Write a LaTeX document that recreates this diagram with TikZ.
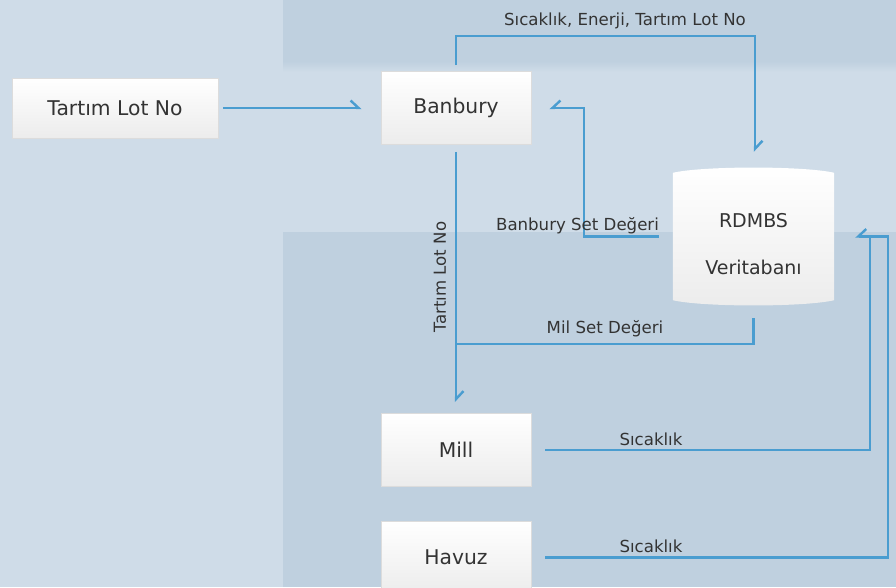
\documentclass[tikz,border=0pt]{standalone}
\usepackage{fontspec}
\setmainfont{DejaVu Sans}
\usetikzlibrary{arrows.meta,calc}
\definecolor{bgL}{HTML}{CFDCE8}
\definecolor{bgD}{HTML}{BFD0DF}
\definecolor{conn}{HTML}{4A9DD0}
\definecolor{txt}{HTML}{333333}
\definecolor{boxbot}{HTML}{ECECEC}
\definecolor{boxline}{HTML}{DCDCDC}
\tikzset{
  box/.style={rectangle, draw=boxline, line width=0.8pt, top color=white, bottom color=boxbot,
    text=txt, font=\fontsize{20.3}{24}\selectfont, inner sep=0pt},
  lbl/.style={text=txt, font=\fontsize{16.6}{20}\selectfont, inner sep=0pt},
  conline/.style={draw=conn, line width=2.4pt},
  harpL/.style={-{Straight Barb[harpoon, length=8pt, width=15pt, line width=2.4pt]}},
  harpR/.style={-{Straight Barb[harpoon, swap, length=8pt, width=15pt, line width=2.4pt]}},
}
\begin{document}
\begin{tikzpicture}[x=1pt,y=-1pt]
\useasboundingbox (0,0) rectangle (896,587);
\clip (0,0) rectangle (896,587);
% background
\fill[bgL] (0,0) rectangle (896,587);
\fill[bgD] (283,0) rectangle (896,62);
\shade[top color=bgD, bottom color=bgL] (283,61) rectangle (896,72);
\fill[bgD] (283,232) rectangle (896,587);

% nodes
\node[box, minimum width=206pt, minimum height=60pt] (tart) at (115,108) {Tartım Lot No};
\node[box, minimum width=150pt, minimum height=73pt] (banb) at (456,108) {Banbury};
\node[box, minimum width=150pt, minimum height=73pt] (mill) at (456,450) {Mill};
\node[box, minimum width=150pt, minimum height=73pt] (havuz) at (456,557.5) {Havuz};

% database cylinder
\node[minimum width=161pt, minimum height=137pt, inner sep=0pt] (db) at (753.5,236.5) {};
\path[top color=white, bottom color=boxbot]
  ($(db.north west)+(0,5)$) .. controls ($(db.north west)+(30,-2)$) and ($(db.north east)+(-30,-2)$) .. ($(db.north east)+(0,5)$)
  -- ($(db.south east)+(0,-5)$) .. controls ($(db.south east)+(-30,2)$) and ($(db.south west)+(30,2)$) .. ($(db.south west)+(0,-5)$)
  -- cycle;
\node[text=txt, font=\fontsize{19}{22}\selectfont, inner sep=0pt] (dbt1) at (753.5,221) {RDMBS};
\node[text=txt, font=\fontsize{19}{22}\selectfont, inner sep=0pt] (dbt2) at (753.5,267) {Veritabanı};

% bend coordinates
\coordinate (topy) at (0,36);
\coordinate (bsx) at (584,0);
\coordinate (mily) at (0,344);
\coordinate (millx) at (870,0);
\coordinate (havx) at (888,0);

% Tartim -> Banbury
\draw[conline, harpL, shorten <=5pt, shorten >=19pt] (tart.east) -- (banb.west);

% Banbury -> RDMBS (top)
\draw[conline, harpL] ([yshift=6pt]banb.north) -- (banb.north |- topy)
  -- ([xshift=1.5pt]db.north |- topy) -- ([xshift=1.5pt,yshift=16pt]db.north);
\node[lbl] (l1) at (625,21) {Sıcaklık, Enerji, Tartım Lot No};

% RDMBS -> Banbury (set value)
\draw[conline, harpR] ([xshift=-14pt]db.west) -- (bsx |- db.west) -- (bsx |- banb.east) -- ([xshift=18pt]banb.east);
\node[lbl, anchor=base] (l2) at (577.5,230) {Banbury Set Değeri};

% Banbury -> Mill
\draw[conline, harpL] ([yshift=-7pt]banb.south) -- ([yshift=11pt]mill.north);
\node[lbl, rotate=90] (l3) at (440,277) {Tartım Lot No};

% RDMBS -> Mil set
\draw[conline] ([yshift=-13pt]db.south) -- (db.south |- mily) -- (banb.south |- mily);
\node[lbl] (l4) at (605,329) {Mil Set Değeri};

% Mill -> RDMBS
\draw[conline] ([xshift=14pt]mill.east) -- (millx |- mill.east) -- (millx |- db.west);
\node[lbl] (l5) at (651,439) {Sıcaklık};

% Havuz -> RDMBS
\draw[conline, harpR] ([xshift=14pt]havuz.east) -- (havx |- havuz.east) -- (havx |- db.west) -- ([xshift=21pt]db.east);
\node[lbl] (l6) at (651,546) {Sıcaklık};
\end{tikzpicture}
\end{document}
